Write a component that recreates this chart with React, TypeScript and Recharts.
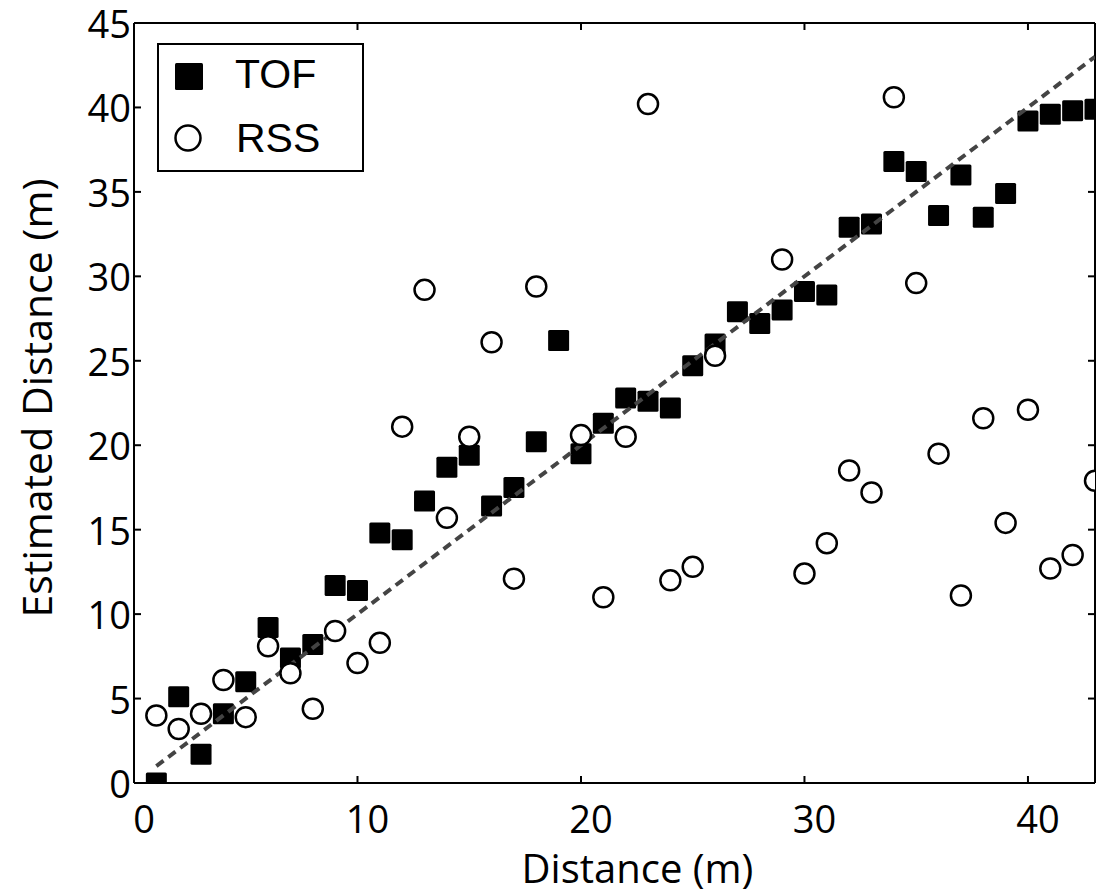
import { ScatterChart, Scatter, XAxis, YAxis, Legend, Label } from "recharts"

// actual distance (m) of each measurement
const distance = [
  1, 2, 3, 4, 5, 6, 7, 8, 9, 10, 11, 12, 13, 14, 15, 16, 17, 18, 19, 20, 21, 22,
  23, 24, 25, 26, 27, 28, 29, 30, 31, 32, 33, 34, 35, 36, 37, 38, 39, 40, 41, 42, 43,
]

// estimated distance from time of flight
const tofEstimate = [
  0.0, 5.1, 1.7, 4.1, 6.0, 9.2, 7.4, 8.2, 11.7, 11.4, 14.8, 14.4, 16.7, 18.7, 19.4,
  16.4, 17.5, 20.2, 26.2, 19.5, 21.3, 22.8, 22.6, 22.2, 24.7, 26.0, 27.9, 27.2, 28.0,
  29.1, 28.9, 32.9, 33.1, 36.8, 36.2, 33.6, 36.0, 33.5, 34.9, 39.2, 39.6, 39.8, 39.9,
]

// estimated distance from signal strength (null = not shown)
const rssEstimate = [
  4.0, 3.2, 4.1, 6.1, 3.9, 8.1, 6.5, 4.4, 9.0, 7.1, 8.3, 21.1, 29.2, 15.7, 20.5,
  26.1, 12.1, 29.4, null, 20.6, 11.0, 20.5, 40.2, 12.0, 12.8, 25.3, null, null, 31.0,
  12.4, 14.2, 18.5, 17.2, 40.6, 29.6, 19.5, 11.1, 21.6, 15.4, 22.1, 12.7, 13.5, 17.9,
]

// ideal estimate line
const fitX = [1, 43]
const fitY = [1, 43]

const xTicks = [0, 10, 20, 30, 40]
const yTicks = [0, 5, 10, 15, 20, 25, 30, 35, 40, 45]
const topTicks = [10, 20, 30, 40]
const rightTicks = [5, 10, 15, 20, 25, 30, 35, 40]

const tofData = distance.map((d, i) => ({ x: d, y: tofEstimate[i] }))
const rssData = distance
  .map((d, i) => ({ x: d, y: rssEstimate[i] }))
  .filter((p) => p.y !== null)
const fitData = fitX.map((x, i) => ({ x, y: fitY[i] }))

const tickFont = "'Open Sans', sans-serif"

const BottomTick = ({ x, y, payload }: any) => (
  <g>
    <line x1={x} y1={y} x2={x} y2={y - 7} stroke="#000" strokeWidth={2} />
    <text x={x + 10} y={y + 50} textAnchor="middle" fontSize={38} fontFamily={tickFont} fill="#000">
      {payload.value}
    </text>
  </g>
)

const LeftTick = ({ x, y, payload }: any) => (
  <g>
    <line x1={x} y1={y} x2={x + 7} y2={y} stroke="#000" strokeWidth={2} />
    <text x={x - 3} y={y + 15} textAnchor="end" fontSize={38} fontFamily={tickFont} fill="#000">
      {payload.value}
    </text>
  </g>
)

// inward ticks on the top and right frame
const TopTick = ({ x, y }: any) => <line x1={x} y1={y} x2={x} y2={y + 7} stroke="#000" strokeWidth={2} />
const RightTick = ({ x, y }: any) => <line x1={x} y1={y} x2={x - 7} y2={y} stroke="#000" strokeWidth={2} />

const SquareDot = ({ cx, cy }: any) => (
  <rect x={cx - 10.5} y={cy - 10.5} width={21} height={21} rx={1.5} fill="#000" />
)
const CircleDot = ({ cx, cy }: any) => (
  <circle cx={cx} cy={cy} r={10} fill="#fff" stroke="#000" strokeWidth={2.5} />
)
const NoDot = () => <g />

const LegendBox = () => (
  <svg width={207} height={129} style={{ display: "block" }}>
    <rect x={1} y={1} width={205} height={127} fill="#fff" stroke="#000" strokeWidth={2} />
    <rect x={18} y={20} width={28} height={27} rx={1.5} fill="#000" />
    <text x={78} y={45} fontSize={41} fontFamily="'Liberation Sans', Arial, sans-serif" fill="#000">TOF</text>
    <circle cx={31} cy={95} r={12.5} fill="#fff" stroke="#000" strokeWidth={2.5} />
    <text x={79} y={109} fontSize={41} fontFamily="'Liberation Sans', Arial, sans-serif" fill="#000">RSS</text>
  </svg>
)

export default function App() {
  return (
    <div style={{ width: 1100, height: 887 }}>
      <ScatterChart width={1100} height={887} margin={{ top: 14, right: 12, left: 0, bottom: 17 }}>
        <XAxis
          type="number"
          dataKey="x"
          domain={[0, 43]}
          ticks={xTicks}
          interval={0}
          height={95}
          tickSize={0}
          tickMargin={0}
          tickLine={false}
          axisLine={{ stroke: "#000", strokeWidth: 2 }}
          tick={<BottomTick />}
          allowDataOverflow
        >
          <Label
            content={({ viewBox }: any) => (
              <text
                x={viewBox.x + viewBox.width / 2 + 23}
                y={viewBox.y + 100}
                textAnchor="middle"
                fontSize={40}
                fontFamily={tickFont}
                fill="#000"
              >
                Distance (m)
              </text>
            )}
          />
        </XAxis>
        <XAxis
          xAxisId="top"
          orientation="top"
          type="number"
          dataKey="x"
          domain={[0, 43]}
          ticks={topTicks}
          interval={0}
          height={1}
          tickSize={0}
          tickMargin={0}
          tickLine={false}
          axisLine={{ stroke: "#000", strokeWidth: 2 }}
          tick={<TopTick />}
          allowDataOverflow
        />
        <YAxis
          type="number"
          dataKey="y"
          domain={[0, 45]}
          ticks={yTicks}
          interval={0}
          width={126}
          tickSize={0}
          tickMargin={0}
          tickLine={false}
          axisLine={{ stroke: "#000", strokeWidth: 2 }}
          tick={<LeftTick />}
          allowDataOverflow
        >
          <Label
            content={({ viewBox }: any) => {
              const cx = viewBox.x + 44
              const cy = viewBox.y + viewBox.height / 2 - 5
              return (
                <text
                  x={cx}
                  y={cy}
                  transform={`rotate(-90, ${cx}, ${cy})`}
                  textAnchor="middle"
                  fontSize={41}
                  fontFamily={tickFont}
                  fill="#000"
                >
                  Estimated Distance (m)
                </text>
              )
            }}
          />
        </YAxis>
        <YAxis
          yAxisId="right"
          orientation="right"
          type="number"
          dataKey="y"
          domain={[0, 45]}
          ticks={rightTicks}
          interval={0}
          width={1}
          tickSize={0}
          tickMargin={0}
          tickLine={false}
          axisLine={{ stroke: "#000", strokeWidth: 2 }}
          tick={<RightTick />}
          allowDataOverflow
        />
        <Legend
          layout="vertical"
          align="center"
          verticalAlign="middle"
          wrapperStyle={{ left: 149, top: 35, width: 207, height: 129 }}
          content={<LegendBox />}
        />
        <Scatter name="TOF" data={tofData} shape={<SquareDot />} isAnimationActive={false} />
        <Scatter
          name="Ideal"
          data={fitData}
          xAxisId="top"
          yAxisId="right"
          shape={<NoDot />}
          line={{ stroke: "#444", strokeWidth: 4, strokeDasharray: "9 6" }}
          legendType="none"
          isAnimationActive={false}
        />
        <Scatter name="RSS" data={rssData} shape={<CircleDot />} isAnimationActive={false} />
      </ScatterChart>
    </div>
  )
}
